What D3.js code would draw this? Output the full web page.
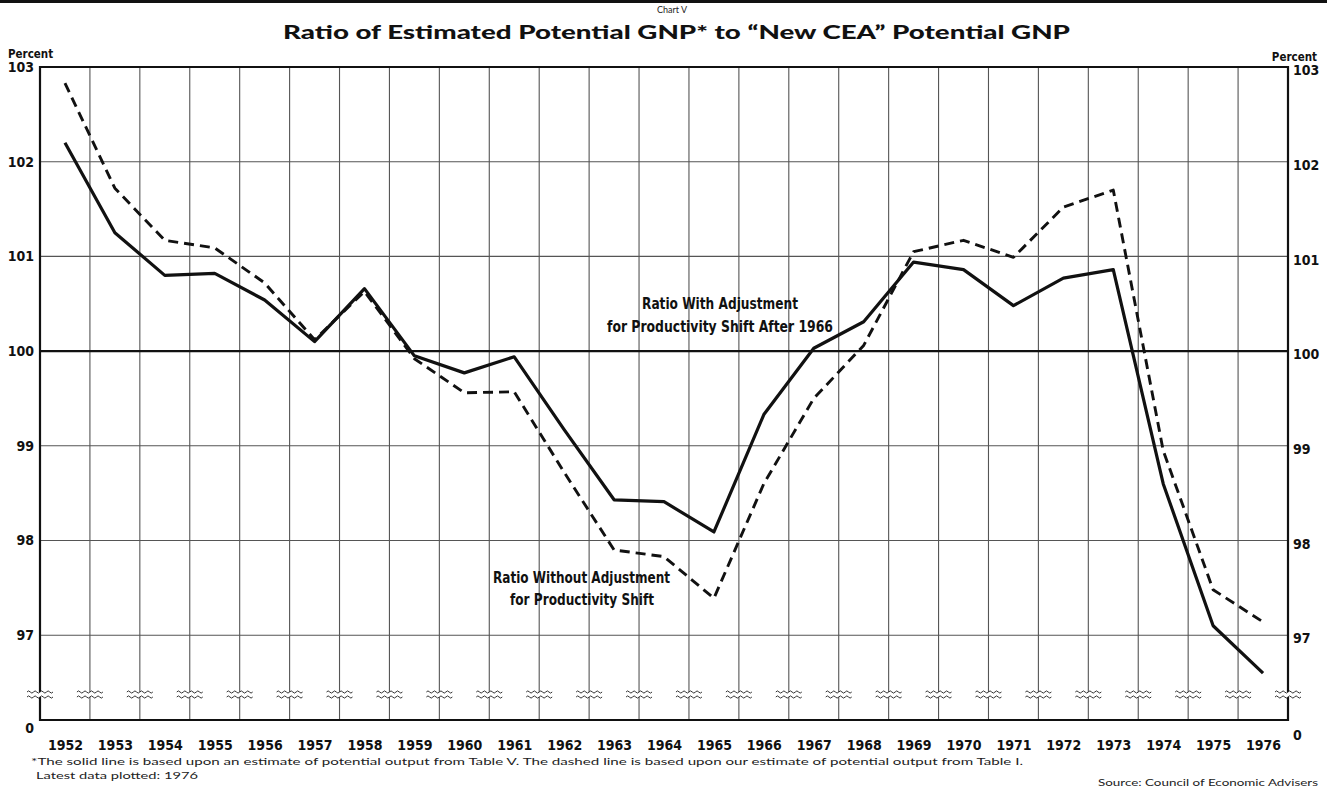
<!DOCTYPE html>
<html>
<head>
<meta charset="utf-8">
<script src="https://cdn.jsdelivr.net/npm/d3@7"></script>
<style>
  body { margin: 0; background: #fff; }
  svg { display: block; }
  .cond { font-family: "DejaVu Sans Condensed", "DejaVu Sans", sans-serif; font-stretch: condensed; font-weight: bold; }
  .geo { font-family: Lato, "DejaVu Sans", sans-serif; }
</style>
</head>
<body>
<div id="graph"></div>
<script>
// data
var years = [1952, 1953, 1954, 1955, 1956, 1957, 1958, 1959, 1960, 1961, 1962, 1963,
             1964, 1965, 1966, 1967, 1968, 1969, 1970, 1971, 1972, 1973, 1974, 1975, 1976];
var withAdjustment = [102.2, 101.25, 100.8, 100.82, 100.54, 100.1, 100.66, 99.95, 99.77, 99.94,
                      99.17, 98.43, 98.41, 98.09, 99.33, 100.03, 100.31, 100.94, 100.86, 100.48,
                      100.77, 100.86, 98.6, 97.1, 96.6];
var withoutAdjustment = [102.83, 101.72, 101.17, 101.09, 100.72, 100.12, 100.63, 99.92, 99.56, 99.57,
                         98.72, 97.9, 97.83, 97.39, 98.6, 99.5, 100.06, 101.05, 101.17, 100.99,
                         101.52, 101.7, 98.95, 97.48, 97.14];
var yTicks = [97, 98, 99, 100, 101, 102, 103];

var width = 1327, height = 792;
// plot frame (note: "top" is reserved on window, so use other names)
var plotLeft = 40, plotRight = 1288, plotTop = 67, plotBottom = 720;

var x = d3.scaleLinear().domain([1951.5, 1976.5]).range([plotLeft, plotRight]);
var y = d3.scaleLinear().domain([96.3, 103]).range([701.5, plotTop]);

var svg = d3.select("#graph").append("svg")
  .attr("width", width)
  .attr("height", height);

// scan border at top
svg.append("rect").attr("x", 0).attr("y", 0).attr("width", width).attr("height", 3).attr("fill", "#111");

// titles
svg.append("text").attr("class", "geo")
  .attr("x", 672).attr("y", 13).attr("text-anchor", "middle")
  .attr("font-size", 9).attr("fill", "#222").text("Chart V");
svg.append("text").attr("class", "geo")
  .attr("x", 283).attr("y", 39)
  .attr("font-size", 18).attr("font-weight", "900")
  .attr("textLength", 787).attr("lengthAdjust", "spacingAndGlyphs")
  .attr("fill", "#111").text("Ratio of Estimated Potential GNP* to \u201CNew CEA\u201D Potential GNP");

svg.append("text").attr("class", "cond").attr("x", 8).attr("y", 58)
  .attr("font-size", 11.5).attr("fill", "#111").text("Percent");
svg.append("text").attr("class", "cond").attr("x", 1317).attr("y", 61).attr("text-anchor", "end")
  .attr("font-size", 11.5).attr("fill", "#111").text("Percent");

// vertical grid lines (year boundaries)
var bounds = d3.range(1952.5, 1976.5, 1);
svg.append("g").selectAll("line").data(bounds).enter().append("line")
  .attr("x1", function (d) { return x(d); })
  .attr("x2", function (d) { return x(d); })
  .attr("y1", plotTop).attr("y2", plotBottom)
  .attr("stroke", "#555").attr("stroke-width", 1.1);

// horizontal grid lines
svg.append("g").selectAll("line").data(yTicks.filter(function (d) { return d !== 103; })).enter().append("line")
  .attr("x1", plotLeft).attr("x2", plotRight)
  .attr("y1", function (d) { return y(d); })
  .attr("y2", function (d) { return y(d); })
  .attr("stroke", function (d) { return d === 100 ? "#111" : "#555"; })
  .attr("stroke-width", function (d) { return d === 100 ? 2.2 : 1.1; });

// frame
svg.append("line").attr("x1", plotLeft).attr("x2", plotRight).attr("y1", plotTop).attr("y2", plotTop)
  .attr("stroke", "#111").attr("stroke-width", 1.8);
svg.append("line").attr("x1", plotLeft).attr("x2", plotRight).attr("y1", plotBottom).attr("y2", plotBottom)
  .attr("stroke", "#111").attr("stroke-width", 2.2);
[plotLeft, plotRight].forEach(function (xx) {
  svg.append("line").attr("x1", xx).attr("x2", xx).attr("y1", plotTop - 1).attr("y2", plotBottom + 1)
    .attr("stroke", "#111").attr("stroke-width", 2.2);
});

// axis break marks
var breakX = [1951.5].concat(bounds).concat([1976.5]);
var wave = function (cx, cy) {
  var p = "M" + (cx - 13) + "," + cy;
  for (var i = 0; i < 4; i++) {
    var sx = cx - 13 + i * 6.5;
    p += " Q" + (sx + 1.6) + "," + (cy - 2.2) + " " + (sx + 3.25) + "," + cy;
    p += " Q" + (sx + 4.9) + "," + (cy + 2.2) + " " + (sx + 6.5) + "," + cy;
  }
  return p;
};
var brk = svg.append("g");
breakX.forEach(function (d) {
  brk.append("rect").attr("x", x(d) - 14).attr("y", 692).attr("width", 28).attr("height", 5).attr("fill", "#fff");
  brk.append("path").attr("d", wave(x(d), 692)).attr("fill", "none").attr("stroke", "#333").attr("stroke-width", 1);
  brk.append("path").attr("d", wave(x(d), 697)).attr("fill", "none").attr("stroke", "#333").attr("stroke-width", 1);
});

// axes
var yLeft = d3.axisLeft(y).tickValues(yTicks).tickSize(0).tickPadding(6).tickFormat(d3.format("d"));
var yRight = d3.axisRight(y).tickValues(yTicks).tickSize(0).tickPadding(5).tickFormat(d3.format("d"));
var xAxis = d3.axisBottom(x).tickValues(years).tickSize(0).tickPadding(20).tickFormat(d3.format("d"));

var gl = svg.append("g").attr("transform", "translate(" + plotLeft + ",0)").call(yLeft);
var gr = svg.append("g").attr("transform", "translate(" + plotRight + ",0)").call(yRight);
var gx = svg.append("g").attr("transform", "translate(0," + plotBottom + ")").call(xAxis);
[gl, gr, gx].forEach(function (g) {
  g.select(".domain").remove();
  g.attr("font-family", null);
  g.selectAll("text").attr("class", "cond").attr("font-size", 14).attr("fill", "#111");
});
gr.selectAll("text").attr("dy", "0.55em");

svg.append("text").attr("class", "cond").attr("x", 34).attr("y", 733).attr("text-anchor", "end")
  .attr("font-size", 14).attr("fill", "#111").text("0");
svg.append("text").attr("class", "cond").attr("x", 1293).attr("y", 740)
  .attr("font-size", 14).attr("fill", "#111").text("0");

// series lines
var line = d3.line()
  .x(function (d, i) { return x(years[i]); })
  .y(function (d) { return y(d); });

svg.append("path").datum(withoutAdjustment)
  .attr("d", line).attr("fill", "none").attr("stroke", "#111")
  .attr("stroke-width", 2.9).attr("stroke-dasharray", "10,6").attr("stroke-linejoin", "round");
svg.append("path").datum(withAdjustment)
  .attr("d", line).attr("fill", "none").attr("stroke", "#111")
  .attr("stroke-width", 3.2).attr("stroke-linejoin", "round");

// annotations
var note = function (t, x0, y0, w) {
  svg.append("text").attr("class", "cond").attr("x", x0).attr("y", y0)
    .attr("font-size", 16).attr("textLength", w).attr("lengthAdjust", "spacingAndGlyphs")
    .attr("fill", "#111").text(t);
};
note("Ratio With Adjustment", 642, 309, 156);
note("for Productivity Shift After 1966", 607, 332, 226);
note("Ratio Without Adjustment", 493, 583, 177);
note("for Productivity Shift", 510, 605, 144);

// footnotes
svg.append("text").attr("class", "geo").attr("x", 31).attr("y", 765)
  .attr("font-size", 10).attr("textLength", 992).attr("lengthAdjust", "spacingAndGlyphs").attr("fill", "#222")
  .text("*The solid line is based upon an estimate of potential output from Table V. The dashed line is based upon our estimate of potential output from Table I.");
svg.append("text").attr("class", "geo").attr("x", 36).attr("y", 779)
  .attr("font-size", 10).attr("textLength", 162).attr("lengthAdjust", "spacingAndGlyphs").attr("fill", "#222")
  .text("Latest data plotted: 1976");
svg.append("text").attr("class", "geo").attr("x", 1098).attr("y", 786)
  .attr("font-size", 10).attr("textLength", 220).attr("lengthAdjust", "spacingAndGlyphs").attr("fill", "#222")
  .text("Source: Council of Economic Advisers");
</script>
</body>
</html>
